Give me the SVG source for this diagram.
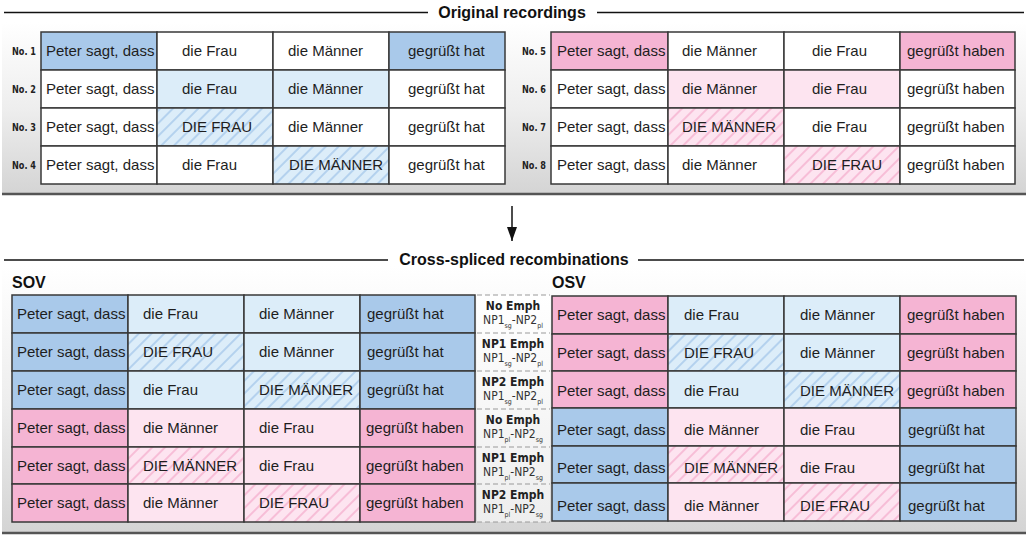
<svg xmlns="http://www.w3.org/2000/svg" width="1028" height="538" viewBox="0 0 1028 538">
<defs>
<linearGradient id="panel" x1="0" y1="0" x2="0" y2="1">
<stop offset="0" stop-color="#ffffff"/>
<stop offset="0.5" stop-color="#eeeeee"/>
<stop offset="1" stop-color="#d4d4d4"/>
</linearGradient>
<linearGradient id="mid" x1="0" y1="0" x2="0" y2="1">
<stop offset="0" stop-color="#ffffff"/>
<stop offset="1" stop-color="#eeeeee"/>
</linearGradient>
<pattern id="hb" patternUnits="userSpaceOnUse" width="9" height="9" patternTransform="rotate(45)">
<rect width="9" height="9" fill="#dcedf9"/>
<line x1="1" y1="0" x2="1" y2="9" stroke="#9fc3e9" stroke-width="1.3"/>
</pattern>
<pattern id="hp" patternUnits="userSpaceOnUse" width="9" height="9" patternTransform="rotate(45)">
<rect width="9" height="9" fill="#fde4f0"/>
<line x1="1" y1="0" x2="1" y2="9" stroke="#f4a9ca" stroke-width="1.3"/>
</pattern>
<marker id="ah" markerWidth="14" markerHeight="10" refX="14" refY="5" orient="auto" markerUnits="userSpaceOnUse" viewBox="0 0 14 10">
<path d="M0,0 L14,5 L0,10 Z" fill="#111"/>
</marker>
</defs>
<style>
.c rect{stroke:#383838;stroke-width:1.5}
.db{fill:#a9c9ea}
.lb{fill:#dcedf9}
.hb{fill:url(#hb)}
.dp{fill:#f5b4d3}
.lp{fill:#fde4f0}
.hp{fill:url(#hp)}
.w{fill:#ffffff}
.t{font-family:"Liberation Sans",Arial,sans-serif;font-size:15px;fill:#1e1e1e}
.no{font-family:"Liberation Sans Narrow","DejaVu Sans Condensed","DejaVu Sans",sans-serif;font-stretch:condensed;font-weight:bold;font-size:11px;fill:#222}
.ttl{font-family:"Liberation Sans",Arial,sans-serif;font-weight:bold;font-size:16px;fill:#111}
.m1{font-family:"Liberation Sans Narrow","DejaVu Sans Condensed","DejaVu Sans",sans-serif;font-stretch:condensed;font-weight:bold;font-size:12px;fill:#222;text-anchor:middle}
.m2{font-family:"Liberation Sans Narrow","DejaVu Sans Condensed","DejaVu Sans",sans-serif;font-stretch:condensed;font-size:12px;fill:#333;text-anchor:middle}
.sub{font-size:7px;fill:#333}
.ln{stroke:#111;stroke-width:1.5}
.dash{stroke:#9a9a9a;stroke-width:1.2;stroke-dasharray:5 3}
</style>

<!-- panels -->
<g id="panel-top">
<rect x="2" y="22" width="1024" height="172" fill="url(#panel)"/>
<line x1="2" y1="194" x2="1026" y2="194" stroke="#555" stroke-width="2.5"/>
</g>
<g id="panel-bottom">
<rect x="2" y="266" width="1024" height="267" fill="url(#panel)"/>
<line x1="2" y1="533" x2="1026" y2="533" stroke="#555" stroke-width="2.5"/>
</g>

<!-- titles -->
<g id="title-original">
<line class="ln" x1="4" y1="12.5" x2="428" y2="12.5"/>
<line class="ln" x1="597" y1="12.5" x2="1024" y2="12.5"/>
<text class="ttl" x="512" y="18" text-anchor="middle">Original recordings</text>
</g>
<g id="title-cross">
<line class="ln" x1="4" y1="260" x2="388" y2="260"/>
<line class="ln" x1="638" y1="260" x2="1024" y2="260"/>
<text class="ttl" x="514" y="265" text-anchor="middle">Cross-spliced recombinations</text>
</g>
<text class="ttl" x="12" y="288">SOV</text>
<text class="ttl" x="552" y="288">OSV</text>

<!-- connectors -->
<g id="connectors">
<line x1="512" y1="206" x2="512" y2="241" stroke="#111" stroke-width="1.5" marker-end="url(#ah)"/>
</g>

<!-- Original recordings, left -->
<g id="no1" class="c">
<text class="no" x="12" y="55" textLength="24" lengthAdjust="spacingAndGlyphs">No. 1</text>
<rect class="db" x="41" y="32" width="116" height="38"/><rect class="w" x="157" y="32" width="116" height="38"/><rect class="w" x="273" y="32" width="116" height="38"/><rect class="db" x="389" y="32" width="116" height="38"/>
<text class="t" x="46" y="56">Peter sagt, dass</text><text class="t" x="182" y="56">die Frau</text><text class="t" x="288" y="56">die Männer</text><text class="t" x="408" y="56">gegrüßt hat</text>
</g>
<g id="no2" class="c">
<text class="no" x="12" y="93" textLength="24" lengthAdjust="spacingAndGlyphs">No. 2</text>
<rect class="w" x="41" y="70" width="116" height="38"/><rect class="lb" x="157" y="70" width="116" height="38"/><rect class="lb" x="273" y="70" width="116" height="38"/><rect class="w" x="389" y="70" width="116" height="38"/>
<text class="t" x="46" y="94">Peter sagt, dass</text><text class="t" x="182" y="94">die Frau</text><text class="t" x="288" y="94">die Männer</text><text class="t" x="408" y="94">gegrüßt hat</text>
</g>
<g id="no3" class="c">
<text class="no" x="12" y="131" textLength="24" lengthAdjust="spacingAndGlyphs">No. 3</text>
<rect class="w" x="41" y="108" width="116" height="38"/><rect class="hb" x="157" y="108" width="116" height="38"/><rect class="w" x="273" y="108" width="116" height="38"/><rect class="w" x="389" y="108" width="116" height="38"/>
<text class="t" x="46" y="132">Peter sagt, dass</text><text class="t" x="182" y="132">DIE FRAU</text><text class="t" x="288" y="132">die Männer</text><text class="t" x="408" y="132">gegrüßt hat</text>
</g>
<g id="no4" class="c">
<text class="no" x="12" y="169" textLength="24" lengthAdjust="spacingAndGlyphs">No. 4</text>
<rect class="w" x="41" y="146" width="116" height="38"/><rect class="w" x="157" y="146" width="116" height="38"/><rect class="hb" x="273" y="146" width="116" height="38"/><rect class="w" x="389" y="146" width="116" height="38"/>
<text class="t" x="46" y="170">Peter sagt, dass</text><text class="t" x="182" y="170">die Frau</text><text class="t" x="289" y="170">DIE MÄNNER</text><text class="t" x="408" y="170">gegrüßt hat</text>
</g>

<!-- Original recordings, right -->
<g id="no5" class="c">
<text class="no" x="522" y="55" textLength="24" lengthAdjust="spacingAndGlyphs">No. 5</text>
<rect class="dp" x="551" y="32" width="117" height="38"/><rect class="w" x="668" y="32" width="116" height="38"/><rect class="w" x="784" y="32" width="116" height="38"/><rect class="dp" x="900" y="32" width="115" height="38"/>
<text class="t" x="557" y="56">Peter sagt, dass</text><text class="t" x="682" y="56">die Männer</text><text class="t" x="812" y="56">die Frau</text><text class="t" x="907" y="56">gegrüßt haben</text>
</g>
<g id="no6" class="c">
<text class="no" x="522" y="93" textLength="24" lengthAdjust="spacingAndGlyphs">No. 6</text>
<rect class="w" x="551" y="70" width="117" height="38"/><rect class="lp" x="668" y="70" width="116" height="38"/><rect class="lp" x="784" y="70" width="116" height="38"/><rect class="w" x="900" y="70" width="115" height="38"/>
<text class="t" x="557" y="94">Peter sagt, dass</text><text class="t" x="682" y="94">die Männer</text><text class="t" x="812" y="94">die Frau</text><text class="t" x="907" y="94">gegrüßt haben</text>
</g>
<g id="no7" class="c">
<text class="no" x="522" y="131" textLength="24" lengthAdjust="spacingAndGlyphs">No. 7</text>
<rect class="w" x="551" y="108" width="117" height="38"/><rect class="hp" x="668" y="108" width="116" height="38"/><rect class="w" x="784" y="108" width="116" height="38"/><rect class="w" x="900" y="108" width="115" height="38"/>
<text class="t" x="557" y="132">Peter sagt, dass</text><text class="t" x="682" y="132">DIE MÄNNER</text><text class="t" x="812" y="132">die Frau</text><text class="t" x="907" y="132">gegrüßt haben</text>
</g>
<g id="no8" class="c">
<text class="no" x="522" y="169" textLength="24" lengthAdjust="spacingAndGlyphs">No. 8</text>
<rect class="w" x="551" y="146" width="117" height="38"/><rect class="w" x="668" y="146" width="116" height="38"/><rect class="hp" x="784" y="146" width="116" height="38"/><rect class="w" x="900" y="146" width="115" height="38"/>
<text class="t" x="557" y="170">Peter sagt, dass</text><text class="t" x="682" y="170">die Männer</text><text class="t" x="812" y="170">DIE FRAU</text><text class="t" x="907" y="170">gegrüßt haben</text>
</g>

<!-- middle label column -->
<g id="labels">
<rect x="477" y="295" width="73" height="227" fill="url(#mid)"/>
<line class="dash" x1="477" y1="295" x2="550" y2="295"/>
<line class="dash" x1="477" y1="333" x2="550" y2="333"/>
<line class="dash" x1="477" y1="371" x2="550" y2="371"/>
<line class="dash" x1="477" y1="409" x2="550" y2="409"/>
<line class="dash" x1="477" y1="447" x2="550" y2="447"/>
<line class="dash" x1="477" y1="484" x2="550" y2="484"/>
<line class="dash" x1="477" y1="522" x2="550" y2="522"/>
<text class="m1" x="513" y="310">No Emph</text>
<text class="m2" x="513" y="324">NP1<tspan class="sub" dy="4">sg</tspan><tspan dy="-4">-NP2</tspan><tspan class="sub" dy="4">pl</tspan></text>
<text class="m1" x="513" y="348">NP1 Emph</text>
<text class="m2" x="513" y="362">NP1<tspan class="sub" dy="4">sg</tspan><tspan dy="-4">-NP2</tspan><tspan class="sub" dy="4">pl</tspan></text>
<text class="m1" x="513" y="386">NP2 Emph</text>
<text class="m2" x="513" y="400">NP1<tspan class="sub" dy="4">sg</tspan><tspan dy="-4">-NP2</tspan><tspan class="sub" dy="4">pl</tspan></text>
<text class="m1" x="513" y="424">No Emph</text>
<text class="m2" x="513" y="438">NP1<tspan class="sub" dy="4">pl</tspan><tspan dy="-4">-NP2</tspan><tspan class="sub" dy="4">sg</tspan></text>
<text class="m1" x="513" y="462">NP1 Emph</text>
<text class="m2" x="513" y="476">NP1<tspan class="sub" dy="4">pl</tspan><tspan dy="-4">-NP2</tspan><tspan class="sub" dy="4">sg</tspan></text>
<text class="m1" x="513" y="499">NP2 Emph</text>
<text class="m2" x="513" y="513">NP1<tspan class="sub" dy="4">pl</tspan><tspan dy="-4">-NP2</tspan><tspan class="sub" dy="4">sg</tspan></text>
</g>

<!-- SOV -->
<g id="sov1" class="c">
<rect class="db" x="12" y="295" width="116" height="38"/><rect class="lb" x="128" y="295" width="116" height="38"/><rect class="lb" x="244" y="295" width="116" height="38"/><rect class="db" x="360" y="295" width="115" height="38"/>
<text class="t" x="17" y="319">Peter sagt, dass</text><text class="t" x="143" y="319">die Frau</text><text class="t" x="259" y="319">die Männer</text><text class="t" x="367" y="319">gegrüßt hat</text>
</g>
<g id="sov2" class="c">
<rect class="db" x="12" y="333" width="116" height="38"/><rect class="hb" x="128" y="333" width="116" height="38"/><rect class="lb" x="244" y="333" width="116" height="38"/><rect class="db" x="360" y="333" width="115" height="38"/>
<text class="t" x="17" y="357">Peter sagt, dass</text><text class="t" x="143" y="357">DIE FRAU</text><text class="t" x="259" y="357">die Männer</text><text class="t" x="367" y="357">gegrüßt hat</text>
</g>
<g id="sov3" class="c">
<rect class="db" x="12" y="371" width="116" height="38"/><rect class="lb" x="128" y="371" width="116" height="38"/><rect class="hb" x="244" y="371" width="116" height="38"/><rect class="db" x="360" y="371" width="115" height="38"/>
<text class="t" x="17" y="395">Peter sagt, dass</text><text class="t" x="143" y="395">die Frau</text><text class="t" x="259" y="395">DIE MÄNNER</text><text class="t" x="367" y="395">gegrüßt hat</text>
</g>
<g id="sov4" class="c">
<rect class="dp" x="12" y="409" width="116" height="38"/><rect class="lp" x="128" y="409" width="116" height="38"/><rect class="lp" x="244" y="409" width="116" height="38"/><rect class="dp" x="360" y="409" width="115" height="38"/>
<text class="t" x="17" y="433">Peter sagt, dass</text><text class="t" x="143" y="433">die Männer</text><text class="t" x="259" y="433">die Frau</text><text class="t" x="366" y="433">gegrüßt haben</text>
</g>
<g id="sov5" class="c">
<rect class="dp" x="12" y="447" width="116" height="37"/><rect class="hp" x="128" y="447" width="116" height="37"/><rect class="lp" x="244" y="447" width="116" height="37"/><rect class="dp" x="360" y="447" width="115" height="37"/>
<text class="t" x="17" y="471">Peter sagt, dass</text><text class="t" x="143" y="471">DIE MÄNNER</text><text class="t" x="259" y="471">die Frau</text><text class="t" x="366" y="471">gegrüßt haben</text>
</g>
<g id="sov6" class="c">
<rect class="dp" x="12" y="484" width="116" height="38"/><rect class="lp" x="128" y="484" width="116" height="38"/><rect class="hp" x="244" y="484" width="116" height="38"/><rect class="dp" x="360" y="484" width="115" height="38"/>
<text class="t" x="17" y="508">Peter sagt, dass</text><text class="t" x="143" y="508">die Männer</text><text class="t" x="259" y="508">DIE FRAU</text><text class="t" x="366" y="508">gegrüßt haben</text>
</g>

<!-- OSV -->
<g id="osv1" class="c">
<rect class="dp" x="552" y="296" width="116" height="38"/><rect class="lb" x="668" y="296" width="116" height="38"/><rect class="lb" x="784" y="296" width="116" height="38"/><rect class="dp" x="900" y="296" width="116" height="38"/>
<text class="t" x="557" y="320">Peter sagt, dass</text><text class="t" x="684" y="320">die Frau</text><text class="t" x="800" y="320">die Männer</text><text class="t" x="907" y="320">gegrüßt haben</text>
</g>
<g id="osv2" class="c">
<rect class="dp" x="552" y="334" width="116" height="37"/><rect class="hb" x="668" y="334" width="116" height="37"/><rect class="lb" x="784" y="334" width="116" height="37"/><rect class="dp" x="900" y="334" width="116" height="37"/>
<text class="t" x="557" y="358">Peter sagt, dass</text><text class="t" x="684" y="358">DIE FRAU</text><text class="t" x="800" y="358">die Männer</text><text class="t" x="907" y="358">gegrüßt haben</text>
</g>
<g id="osv3" class="c">
<rect class="dp" x="552" y="371" width="116" height="37"/><rect class="lb" x="668" y="371" width="116" height="37"/><rect class="hb" x="784" y="371" width="116" height="37"/><rect class="dp" x="900" y="371" width="116" height="37"/>
<text class="t" x="557" y="396">Peter sagt, dass</text><text class="t" x="684" y="396">die Frau</text><text class="t" x="800" y="396">DIE MÄNNER</text><text class="t" x="907" y="396">gegrüßt haben</text>
</g>
<g id="osv4" class="c">
<rect class="db" x="552" y="408" width="116" height="38"/><rect class="lp" x="668" y="408" width="116" height="38"/><rect class="lp" x="784" y="408" width="116" height="38"/><rect class="db" x="900" y="408" width="116" height="38"/>
<text class="t" x="557" y="435">Peter sagt, dass</text><text class="t" x="684" y="435">die Männer</text><text class="t" x="800" y="435">die Frau</text><text class="t" x="908" y="435">gegrüßt hat</text>
</g>
<g id="osv5" class="c">
<rect class="db" x="552" y="446" width="116" height="37"/><rect class="hp" x="668" y="446" width="116" height="37"/><rect class="lp" x="784" y="446" width="116" height="37"/><rect class="db" x="900" y="446" width="116" height="37"/>
<text class="t" x="557" y="473">Peter sagt, dass</text><text class="t" x="684" y="473">DIE MÄNNER</text><text class="t" x="800" y="473">die Frau</text><text class="t" x="908" y="473">gegrüßt hat</text>
</g>
<g id="osv6" class="c">
<rect class="db" x="552" y="483" width="116" height="38"/><rect class="lp" x="668" y="483" width="116" height="38"/><rect class="hp" x="784" y="483" width="116" height="38"/><rect class="db" x="900" y="483" width="116" height="38"/>
<text class="t" x="557" y="511">Peter sagt, dass</text><text class="t" x="684" y="511">die Männer</text><text class="t" x="800" y="511">DIE FRAU</text><text class="t" x="908" y="511">gegrüßt hat</text>
</g>
</svg>
